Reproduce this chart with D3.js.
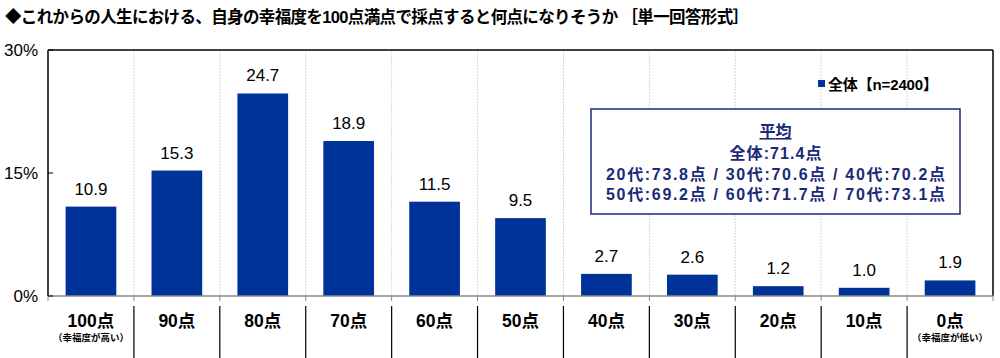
<!DOCTYPE html>
<html><head><meta charset="utf-8">
<script src="https://cdn.jsdelivr.net/npm/d3@7"></script>
<style>
body{margin:0;background:#fff;}
svg{display:block;}
</style></head>
<body><svg id="c" width="1000" height="358"></svg>
<script>
const categories = ["100点","90点","80点","70点","60点","50点","40点","30点","20点","10点","0点"];
const subLabels = ["（幸福度が高い）","","","","","","","","","","（幸福度が低い）"];
const values = [10.9,15.3,24.7,18.9,11.5,9.5,2.7,2.6,1.2,1.0,1.9];
const yTicks = [0,15,30];
const title = "◆これからの人生における、自身の幸福度を100点満点で採点すると何点になりそうか ［単一回答形式］";
const legendLabel = "全体【n=2400】";
const avgLines = ["平均","全体:71.4点","20代:73.8点 / 30代:70.6点 / 40代:70.2点","50代:69.2点 / 60代:71.7点 / 70代:73.1点"];

const svg = d3.select("#c");
const L=48, R=993, T=50, B=296;
const JP = "'Liberation Sans','Noto Sans CJK JP',sans-serif";
const NUM = "'Liberation Sans',Arial,sans-serif";
const blue = "#003399";
const navy = "#1a2a78";

const x = d3.scaleBand().domain(categories).range([L,R]).paddingInner(0.41).paddingOuter(0.205);
const y = d3.scaleLinear().domain([0,30]).range([B,T]);

svg.append("text").attr("x",5).attr("y",23).attr("font-family",JP).attr("font-weight","bold")
  .attr("font-size",16.5).attr("fill","#000").attr("textLength",744).attr("lengthAdjust","spacing").text(title);

// vertical gridlines at category boundaries
const step = (R-L)/categories.length;
const bounds = d3.range(1,categories.length).map(i=>L+i*step);
svg.append("g").selectAll("line").data(bounds).join("line")
  .attr("x1",d=>d).attr("x2",d=>d).attr("y1",T).attr("y2",B)
  .attr("stroke","#d9d9d9").attr("stroke-width",1).attr("stroke-dasharray","2,1");

// bars
svg.append("g").selectAll("rect").data(values).join("rect")
  .attr("x",(d,i)=>x(categories[i])).attr("width",x.bandwidth())
  .attr("y",d=>y(d)).attr("height",d=>B-y(d)).attr("fill",blue);

// value labels
svg.append("g").selectAll("text").data(values).join("text")
  .attr("x",(d,i)=>x(categories[i])+x.bandwidth()/2).attr("y",d=>y(d)-12)
  .attr("text-anchor","middle").attr("font-family",NUM).attr("font-size",17).attr("fill","#000")
  .text(d=>d.toFixed(1));

// frame
svg.append("line").attr("x1",L).attr("x2",R).attr("y1",T).attr("y2",T).attr("stroke","#000").attr("stroke-width",1.5);
svg.append("line").attr("x1",L).attr("x2",L).attr("y1",T).attr("y2",B).attr("stroke","#000").attr("stroke-width",1.5);
svg.append("line").attr("x1",R).attr("x2",R).attr("y1",T).attr("y2",B).attr("stroke","#000").attr("stroke-width",1.5);
svg.append("line").attr("x1",L).attr("x2",R).attr("y1",B).attr("y2",B).attr("stroke","#888").attr("stroke-width",1.5);

// bottom ticks
svg.append("g").selectAll("line").data([L,...bounds,R]).join("line")
  .attr("x1",d=>d).attr("x2",d=>d).attr("y1",B).attr("y2",B+5).attr("stroke","#888");

// y axis ticks & labels
svg.append("g").selectAll("line").data(yTicks).join("line")
  .attr("x1",L).attr("x2",L+5).attr("y1",d=>y(d)).attr("y2",d=>y(d)).attr("stroke","#000");
svg.append("g").selectAll("text").data(yTicks).join("text")
  .attr("x",38).attr("y",d=>y(d)).attr("dy","0.36em").attr("text-anchor","end")
  .attr("font-family",NUM).attr("font-size",17).attr("fill","#000").text(d=>d+"%");

// category label dividers
svg.append("g").selectAll("line").data(bounds).join("line")
  .attr("x1",d=>d).attr("x2",d=>d).attr("y1",306).attr("y2",358).attr("stroke","#000").attr("stroke-width",1.2);

// category labels
const cg = svg.append("g");
cg.selectAll("text.cat").data(categories).join("text").attr("class","cat")
  .attr("x",d=>x(d)+x.bandwidth()/2).attr("y",327).attr("text-anchor","middle")
  .attr("font-family",JP).attr("font-weight","bold").attr("font-size",17.5).attr("fill","#000").text(d=>d);
cg.selectAll("text.sub").data(subLabels).join("text").attr("class","sub")
  .attr("x",(d,i)=>x(categories[i])+x.bandwidth()/2).attr("y",341).attr("text-anchor","middle")
  .attr("font-family",JP).attr("font-weight","bold").attr("font-size",9.5).attr("fill","#000").text(d=>d);

// legend
svg.append("rect").attr("x",818).attr("y",80).attr("width",7).attr("height",7).attr("fill",blue);
svg.append("text").attr("x",828).attr("y",90).attr("font-family",JP).attr("font-weight","bold")
  .attr("font-size",15).attr("fill","#000").attr("textLength",110).attr("lengthAdjust","spacing").text(legendLabel);

// average box
const bx=591, by=109, bw=369, bh=105;
svg.append("rect").attr("x",bx).attr("y",by).attr("width",bw).attr("height",bh)
  .attr("fill","#fff").attr("stroke",navy).attr("stroke-width",1.5);
const ly = [137,159,180,200];
const lens = [32,92,339,339];
const tg = svg.append("g");
tg.selectAll("text").data(avgLines).join("text")
  .attr("x",bx+bw/2).attr("y",(d,i)=>ly[i]).attr("text-anchor","middle")
  .attr("font-family",JP).attr("font-weight","bold").attr("font-size",16).attr("fill",navy)
  .attr("textLength",(d,i)=>lens[i]).attr("lengthAdjust","spacing")
  .attr("text-decoration",(d,i)=>i===0?"underline":null).text(d=>d);
</script></body></html>
